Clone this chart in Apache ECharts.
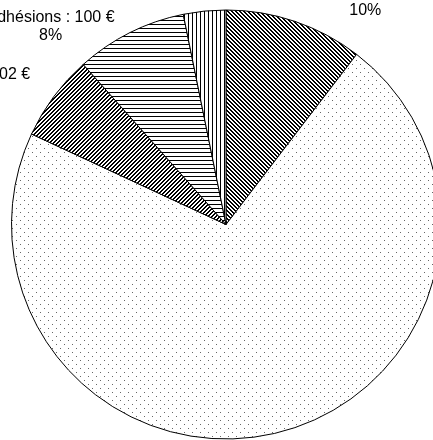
<!DOCTYPE html>
<html><head><meta charset="utf-8">
<script src="https://cdn.jsdelivr.net/npm/echarts@6/dist/echarts.min.js"></script>
<style>html,body{margin:0;padding:0;background:#fff;}#c{width:433px;height:440px;}</style>
</head><body><div id="c"></div>
<script>
// Data
const categories = ['Subvention', 'Ventes', 'Dons', 'Adhésions', 'Divers'];
const values = [124, 851, 77.02, 100, 38];

// Styling / label placement (not data)
const patternKinds = ['backslash', 'dots', 'slash', 'horizontal', 'vertical'];
const labelLen1 = [20.5, 35, 22, 7.3, 17.5];
const labelLen2 = [-8, 0, 1, 7, 0];

function makeTile(kind) {
  const c = document.createElement('canvas');
  const ctx = c.getContext('2d');
  let w = 4, h = 4;
  if (kind === 'dots') { w = 8; h = 8; }
  c.width = w; c.height = h;
  ctx.fillStyle = '#fff'; ctx.fillRect(0, 0, w, h);
  ctx.fillStyle = '#000';
  if (kind === 'backslash') for (let i = 0; i < 4; i++) { ctx.fillRect(i, i, 1, 1); ctx.fillRect((i + 1) % 4, i, 1, 1); }
  if (kind === 'slash') for (let i = 0; i < 4; i++) { ctx.fillRect(3 - i, i, 1, 1); ctx.fillRect((4 - i) % 4, i, 1, 1); }
  if (kind === 'horizontal') ctx.fillRect(0, 0, 4, 1);
  if (kind === 'vertical') ctx.fillRect(0, 0, 1, 4);
  if (kind === 'dots') { ctx.fillStyle = '#666'; ctx.fillRect(0, 0, 1, 1); ctx.fillRect(4, 4, 1, 1); }
  return c;
}

function euro(v) {
  const s = Number.isInteger(v) ? String(v) : v.toFixed(2).replace('.', ',');
  return s + ' €';
}

const chart = echarts.init(document.getElementById('c'), null, { renderer: 'canvas' });
chart.setOption({
  animation: false,
  backgroundColor: '#fff',
  series: [{
    type: 'pie',
    center: [226, 224.5],
    radius: 214.5,
    startAngle: 90,
    clockwise: true,
    avoidLabelOverlap: false,
    percentPrecision: 0,
    emphasis: { disabled: true, scale: false },
    label: {
      show: true,
      position: 'outside',
      alignTo: 'none',
      overflow: 'none',
      distanceToLabelLine: 5,
      formatter: p => '{t|' + p.name + ' : ' + euro(p.value) + '}\n{t|' + p.percent + '%}',
      rich: {
        t: { align: 'center', fontSize: 16, lineHeight: 18, fontFamily: '"Liberation Sans", Arial, sans-serif', color: '#000' }
      }
    },
    labelLine: { show: false, length: 17.5, length2: 0 },
    data: categories.map((name, i) => ({
      name: name,
      value: values[i],
      labelLine: { show: false, length: labelLen1[i], length2: labelLen2[i] },
      itemStyle: {
        color: { image: makeTile(patternKinds[i]), repeat: 'repeat' },
        borderColor: '#000',
        borderWidth: 1
      }
    }))
  }]
});
</script>
</body></html>
